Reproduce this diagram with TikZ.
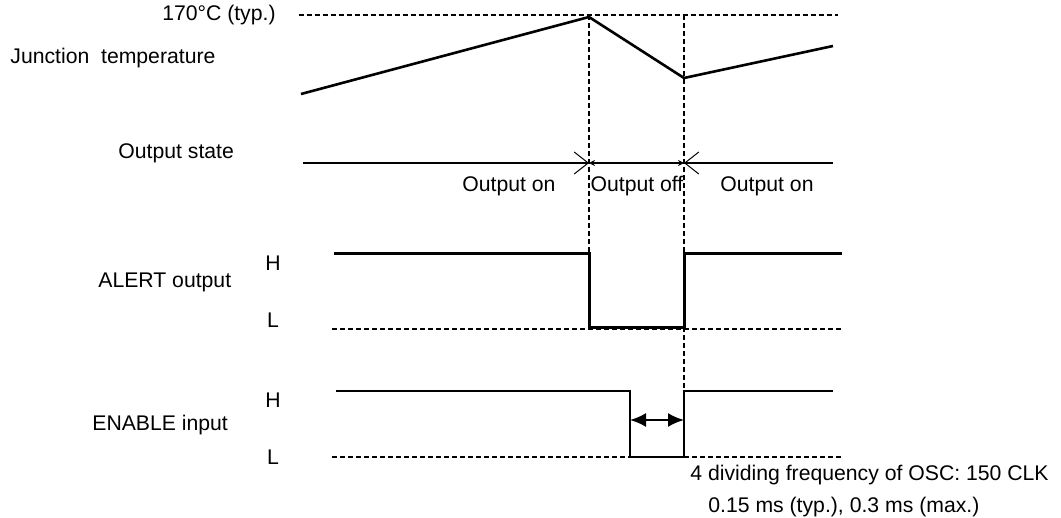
\documentclass[tikz,border=0pt]{standalone}
\usepackage{fontspec}
\setmainfont{Liberation Sans}
\usetikzlibrary{arrows.meta}
\begin{document}
\begin{tikzpicture}[x=0.5pt,y=-0.5pt,
    every node/.style={font=\fontsize{10.6}{13}\selectfont,inner sep=0pt},
    guide/.style={dash pattern=on 2.4pt off 1.6pt,line width=0.6pt},
    wave/.style={line width=1.5pt},
    thinwave/.style={line width=0.6pt},
    bigtip/.style={-{Straight Barb[length=7pt,width=11pt,line width=0.5pt]}},
    smalltip/.style={{Stealth[length=3pt,width=3pt]}-{Stealth[length=3pt,width=3pt]}},
    gaptip/.style={{Latex[length=8pt,width=7pt]}-{Latex[length=8pt,width=7pt]}}]
  \useasboundingbox (0,0) rectangle (1061,518);
  % texts
  \begin{scope}[every node/.append style={anchor=west}]
    \node (tj) at (10,58) {Junction\ \ temperature};
    \node (os) at (118,153) {Output state};
    \node (al) at (98,282) {ALERT output};
    \node (en) at (92,425) {ENABLE input};
    \node (clk) at (690,475) {4 dividing frequency of OSC: 150 CLK};
    \node (tim) at (708,507) {0.15 ms (typ.), 0.3 ms (max.)};
  \end{scope}
  \node[anchor=east] (typ) at (276,15) {170°C (typ.)};
  \node (alH) at (273,263) {H};
  \node (alL) at (273,320) {L};
  \node (enH) at (273,400) {H};
  \node (enL) at (273,457) {L};
  \node (on1) at (509,186) {Output on};
  \node (off) at (637,186) {Output off};
  \node (on2) at (767,186) {Output on};
  % points
  \coordinate (g0) at (299,15);  \coordinate (g1) at (838,15);
  \coordinate (t0) at (301,94);  \coordinate (t1) at (589,17);
  \coordinate (t2) at (684,78);  \coordinate (t3) at (833,46);
  \coordinate (v1) at (589,328); \coordinate (v2) at (684,391);
  \coordinate (s0) at (303,163); \coordinate (s1) at (589,163);
  \coordinate (s2) at (684,163); \coordinate (s3) at (833,163);
  \coordinate (a0) at (334,254); \coordinate (a1) at (589,254);
  \coordinate (a2) at (589,328); \coordinate (a3) at (684,328);
  \coordinate (a4) at (684,254); \coordinate (a5) at (842,254);
  \coordinate (aL0) at (332,329); \coordinate (aL1) at (842,329);
  \coordinate (e0) at (336,391); \coordinate (e1) at (630,391);
  \coordinate (e2) at (630,457); \coordinate (e3) at (684,457);
  \coordinate (e4) at (684,391); \coordinate (e5) at (833,391);
  \coordinate (eL0) at (332,457); \coordinate (eL1) at (842,457);
  \coordinate (d0) at (630,420); \coordinate (d1) at (684,420);
  % guides
  \draw[guide] (g0) -- (g1);
  \draw[guide] (589,15) -- (v1);
  \draw[guide] (684,15) -- (v2);
  \draw[guide] (aL0) -- (aL1);
  \draw[guide] (eL0) -- (eL1);
  % waves
  \draw[line width=1.3pt] (t0) -- (t1) -- (t2) -- (t3);
  \draw[thinwave,bigtip] (s0) -- (s1);
  \draw[thinwave,smalltip] (s1) -- (s2);
  \draw[thinwave,bigtip] (s3) -- (s2);
  \draw[wave] (a0) -- (a1) -- (a2) -- (a3) -- (a4) -- (a5);
  \draw[thinwave] (e0) -- (e1) -- (e2) -- (e3) -- (e4) -- (e5);
  \draw[line width=1pt,gaptip] (d0) -- (d1);
\end{tikzpicture}
\end{document}
